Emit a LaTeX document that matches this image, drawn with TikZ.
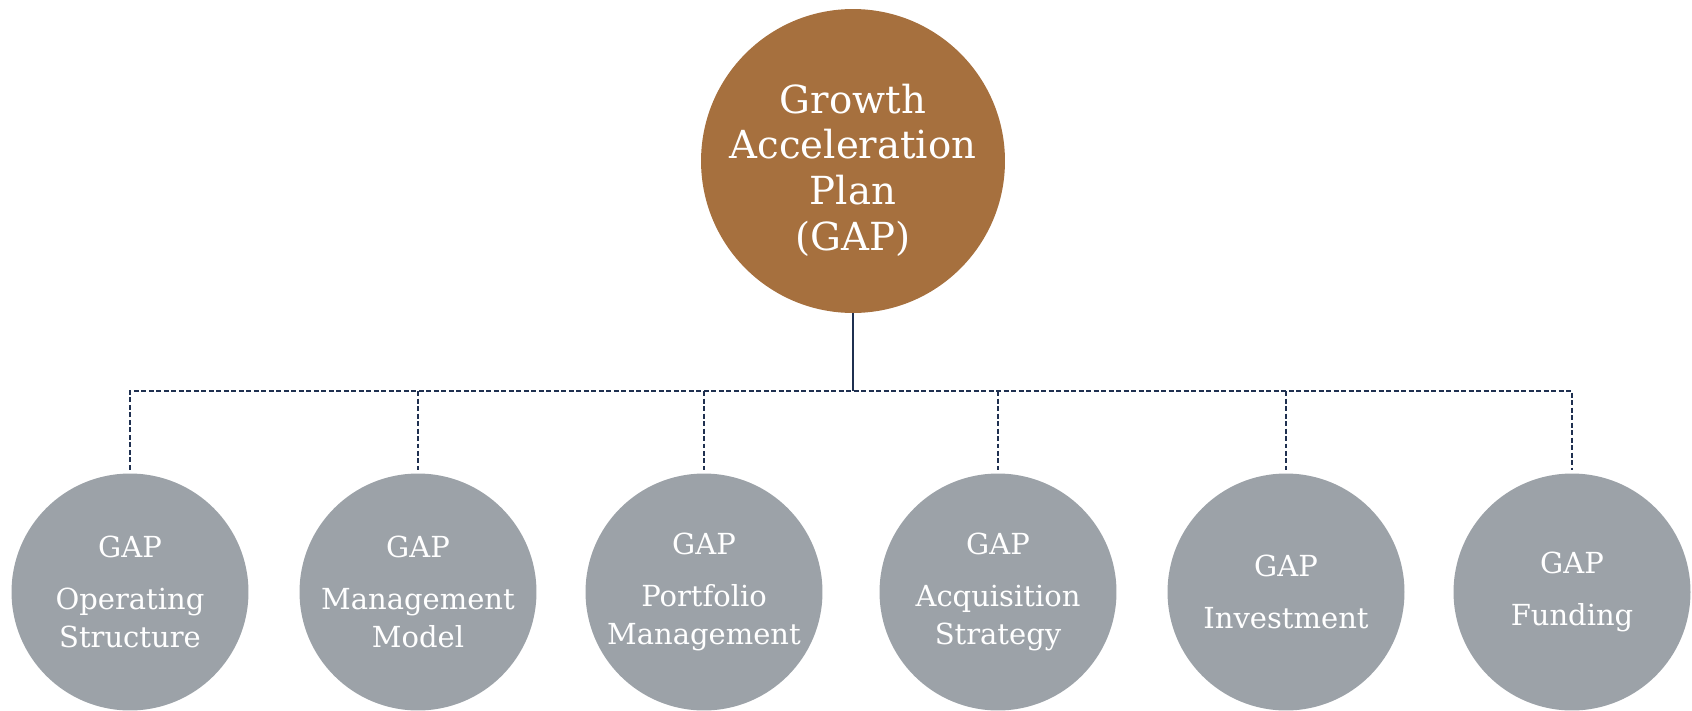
\documentclass[tikz,border=0pt]{standalone}
\usepackage{fontspec}
\setmainfont{DejaVu Serif}
\definecolor{gapbrown}{RGB}{166,112,62}
\definecolor{gapgrey}{RGB}{156,162,168}
\definecolor{linkblue}{RGB}{31,48,80}

\begin{document}
\begin{tikzpicture}[x=0.02cm, y=-0.02cm,
        main/.style={circle,fill=gapbrown,minimum size=6.08cm,inner sep=0pt},
        maintext/.style={text=white,align=center,inner sep=0pt,
            font=\fontsize{22}{26}\selectfont},
        sub/.style={circle,fill=gapgrey,minimum size=4.74cm,inner sep=0pt,
            text=white,align=center,font=\fontsize{16.5}{21.6}\selectfont},
        link/.style={color=linkblue,line width=0.8pt,
            dash pattern=on 0.1cm off 0.05cm}]
\useasboundingbox (0,0) rectangle (1692,710);

\node[main] (gap) at (853,161) {};
\node[maintext] (gaptext) at (853,170) {Growth\\Acceleration\\Plan\\(GAP)};

\node[sub] (ops)  at (130,592)  {GAP\\[8pt]Operating\\Structure};
\node[sub] (mgmt) at (418,592)  {GAP\\[8pt]Management\\Model};
\node[sub] (port) at (704,592)  {GAP\\[8pt]Portfolio\\Management};
\node[sub] (acq)  at (998,592)  {GAP\\[8pt]Acquisition\\Strategy};
\node[sub] (inv)  at (1286,592) {GAP\\[8pt]Investment};
\node[sub] (fund) at (1572,592) {GAP\\[8pt]Funding};

\coordinate (bus) at (853,391);
\draw[color=linkblue, line width=1pt] (gap.south) -- (bus);
\draw[link] ([yshift=2pt]ops.north) -- (ops.north |- bus) -- (fund.north |- bus) -- ([yshift=2pt]fund.north);
\draw[link] (mgmt.north |- bus) -- ([yshift=2pt]mgmt.north);
\draw[link] (port.north |- bus) -- ([yshift=2pt]port.north);
\draw[link] (acq.north |- bus)  -- ([yshift=2pt]acq.north);
\draw[link] (inv.north |- bus)  -- ([yshift=2pt]inv.north);

\end{tikzpicture}
\end{document}
